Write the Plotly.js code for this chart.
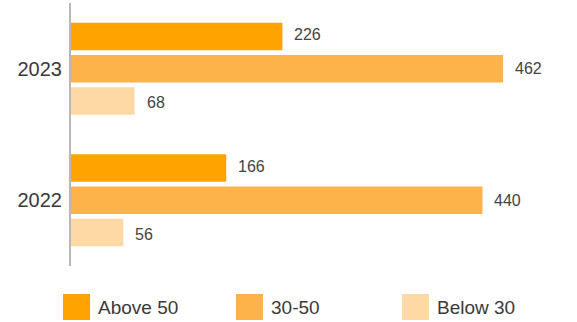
<!DOCTYPE html>
<html>
<head>
<meta charset="utf-8">
<script src="https://cdn.plot.ly/plotly-3.0.1.min.js"></script>
<style>html,body{margin:0;padding:0;background:#fff;}#chart{width:577px;height:322px;}</style>
</head>
<body>
<div id="chart"></div>
<script>
const years = ['2023', '2022'];
const seriesNames = ['Above 50', '30-50', 'Below 30'];
const above50 = [226, 166];
const mid3050 = [462, 440];
const below30 = [68, 56];
const colors = ['#FFA300', '#FDB24A', '#FED9A5'];

const seriesValues = [above50, mid3050, below30];
const W = 577, H = 322, L = 71, R = 1, T = 3, B = 56;
const pw = W - L - R, ph = H - T - B;

const traces = seriesValues.map((vals, i) => ({
  type: 'bar',
  orientation: 'h',
  name: seriesNames[i],
  x: vals,
  y: years,
  marker: {color: colors[i]},
  hoverinfo: 'none',
  showlegend: false
}));

const annotations = [];
const barStep = 34;
seriesValues.forEach((vals, i) => {
  vals.forEach((v, j) => {
    annotations.push({
      x: v, y: j, xref: 'x', yref: 'y',
      text: String(v), showarrow: false,
      xanchor: 'left', yanchor: 'middle',
      xshift: 10, yshift: barStep * (1 - i),
      font: {family: 'Liberation Sans, Arial, sans-serif', size: 16, color: '#444444'}
    });
  });
});

// custom legend
const legendX = [63, 236, 402];
const shapes = [];
const px2x = p => (p - L) / pw;
const py2y = p => (H - B - p) / ph;
seriesNames.forEach((n, i) => {
  shapes.push({
    type: 'rect', xref: 'paper', yref: 'paper',
    x0: px2x(legendX[i]), x1: px2x(legendX[i] + 27),
    y0: py2y(294), y1: py2y(320),
    fillcolor: colors[i], line: {width: 0}
  });
  annotations.push({
    xref: 'paper', yref: 'paper',
    x: px2x(legendX[i] + 33), y: py2y(307),
    xanchor: 'left', yanchor: 'middle', showarrow: false,
    text: n,
    font: {family: 'Liberation Sans, Arial, sans-serif', size: 19, color: '#3a3a3a'}
  });
});

const layout = {
  width: W, height: H,
  margin: {l: L, r: R, t: T, b: B, pad: 0},
  paper_bgcolor: '#ffffff', plot_bgcolor: '#ffffff',
  barmode: 'group',
  bargap: 0.265,
  bargroupgap: 0.15,
  showlegend: false,
  xaxis: {range: [0, 540], visible: false, fixedrange: true},
  yaxis: {
    type: 'category', range: [1.5, -0.5], autorange: false,
    showline: true, linecolor: '#b8b8b8', linewidth: 2,
    showgrid: false, zeroline: false, ticks: '',
    ticklabelstandoff: 3,
    tickfont: {family: 'Liberation Sans, Arial, sans-serif', size: 20, color: '#3a3a3a'}
  },
  annotations: annotations,
  shapes: shapes
};

Plotly.newPlot('chart', traces, layout, {staticPlot: true, displayModeBar: false});
</script>
</body>
</html>
